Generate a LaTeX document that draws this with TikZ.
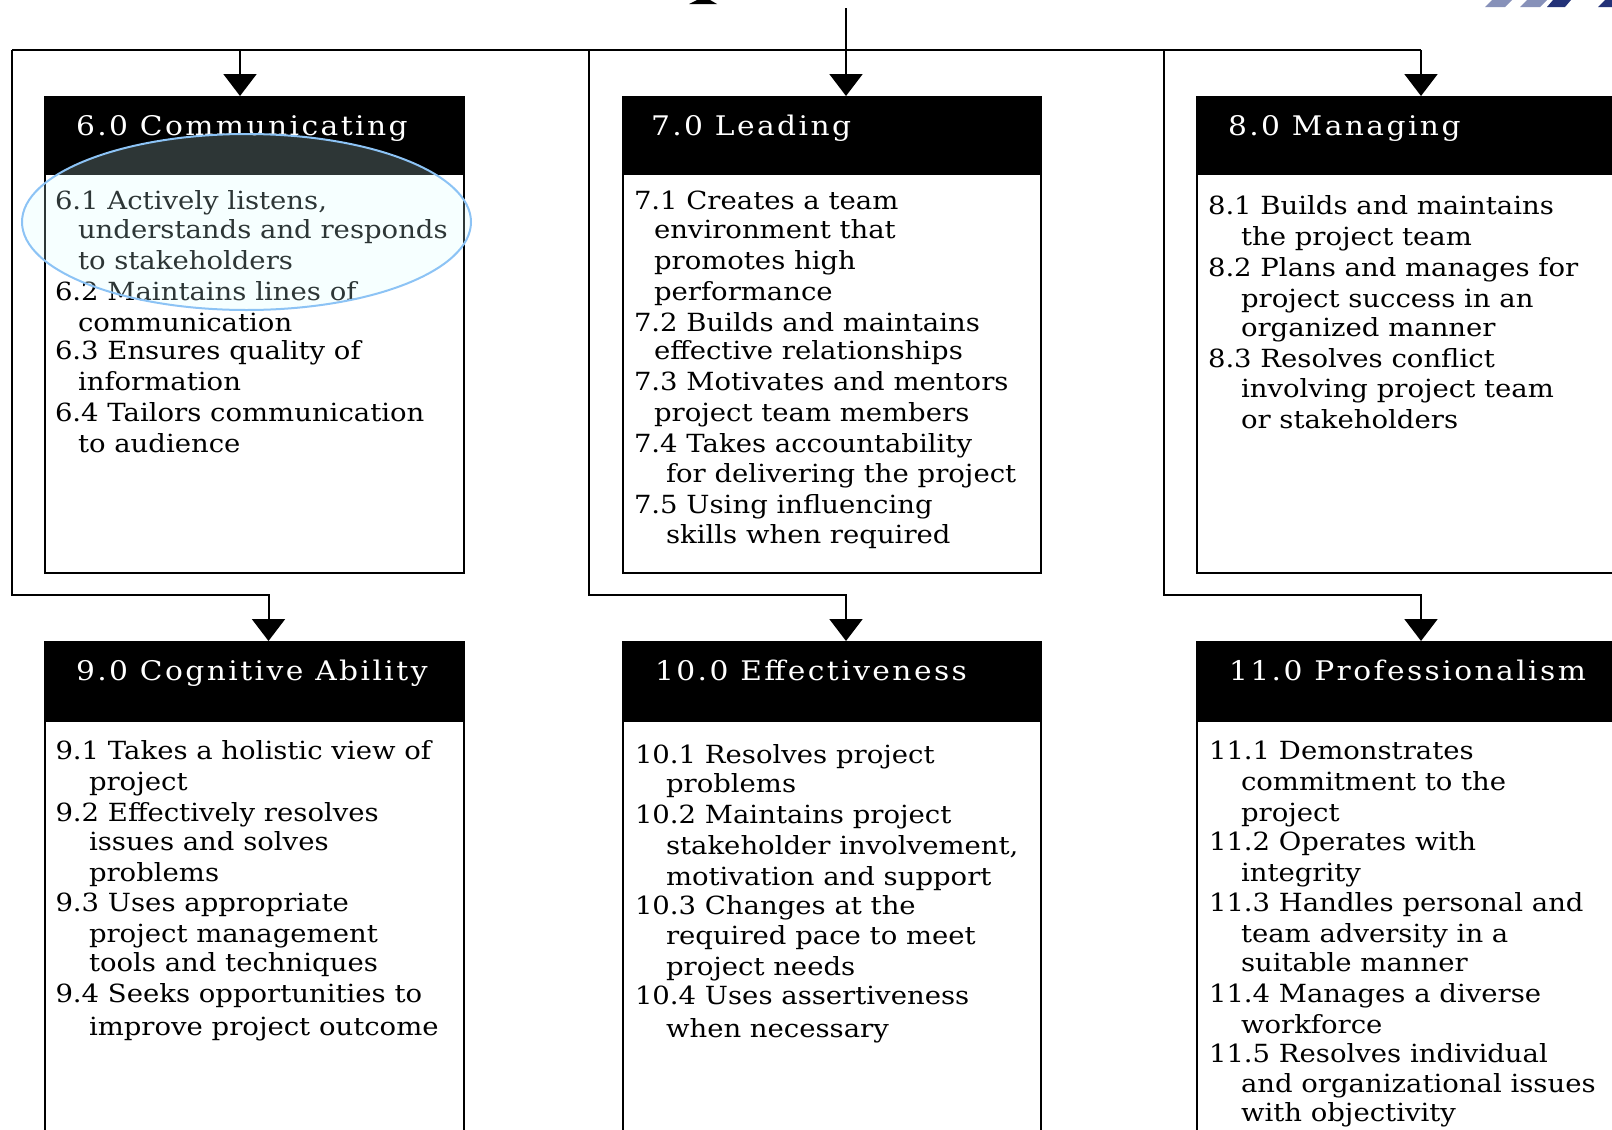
\documentclass[tikz,border=0pt]{standalone}
\usepackage{fontspec}
\setmainfont[FakeStretch=1.1]{DejaVu Serif}
\newfontfamily\headfont[LetterSpace=9,FakeStretch=1.1]{DejaVu Serif}
\usetikzlibrary{arrows.meta}
\definecolor{glow}{RGB}{214,255,255}
\definecolor{ring}{RGB}{140,195,245}
\definecolor{stripegrey}{RGB}{135,145,185}
\definecolor{stripenavy}{RGB}{35,50,120}

\begin{document}
\begin{tikzpicture}[x=1pt,y=-1pt,line width=2pt,line join=miter,
  frame/.style={draw=black,fill=white,line width=2pt,inner sep=0pt,anchor=north west},
  headbar/.style={draw=black,fill=black,line width=2pt,inner sep=0pt,anchor=north west,minimum height=77pt},
  headtext/.style={anchor=base west,inner sep=0pt,text=white,font=\headfont\fontsize{27}{32}\selectfont},
  item/.style={anchor=base west,inner sep=0pt,font=\fontsize{25}{30}\selectfont},
  tip/.style={-{Triangle[width=33pt,length=22pt]}}]
\useasboundingbox (0,0) rectangle (1612,1130);
\clip (0,0) rectangle (1612,1130);

% competency boxes
\node[frame,minimum width=419pt,minimum height=476pt] (b6) at (44,96) {};
\node[frame,minimum width=418pt,minimum height=476pt] (b7) at (622,96) {};
\node[frame,minimum width=440pt,minimum height=476pt] (b8) at (1196,96) {};
\node[frame,minimum width=419pt,minimum height=520pt] (b9) at (44,641) {};
\node[frame,minimum width=418pt,minimum height=520pt] (b10) at (622,641) {};
\node[frame,minimum width=440pt,minimum height=520pt] (b11) at (1196,641) {};

% black title bars
\node[headbar,minimum width=419pt] (h6) at (44,96) {};
\node[headbar,minimum width=418pt] (h7) at (622,96) {};
\node[headbar,minimum width=440pt] (h8) at (1196,96) {};
\node[headbar,minimum width=419pt,minimum height=79pt] (h9) at (44,641) {};
\node[headbar,minimum width=418pt,minimum height=79pt] (h10) at (622,641) {};
\node[headbar,minimum width=440pt,minimum height=79pt] (h11) at (1196,641) {};

\node[headtext] (t6) at (75,135) {6.0 Communicating};
\node[headtext] (t7) at (650,135) {7.0 Leading};
\node[headtext] (t8) at (1227,135) {8.0 Managing};
\node[headtext] (t9) at (75,680) {9.0 Cognitive Ability};
\node[headtext] (t10) at (654,680) {10.0 Effectiveness};
\node[headtext] (t11) at (1228,680) {11.0 Professionalism};

% connectors
\coordinate (src) at (846,8);
\coordinate (busL) at (12,50);
\coordinate (busR) at (1421,50);
\coordinate (j6) at (240,50);
\coordinate (jm) at (589,50);
\coordinate (jr) at (1164,50);
\coordinate (k9) at (268.5,595);
\coordinate (k10) at (846,595);
\coordinate (k11) at (1421,595);

\draw[line width=2.5pt] (busL) -- (busR);
\draw[tip] (src) -- (src |- b7.north);
\draw[tip] (j6) -- (j6 |- b6.north);
\draw[tip] (busR) -- (busR |- b8.north);
\draw[tip] (busL) |- (k9) -- (k9 |- b9.north);
\draw[tip] (jm) |- (k10) -- (k10 |- b10.north);
\draw[tip] (jr) |- (k11) -- (k11 |- b11.north);

% item lists
\foreach \y/\x/\t [count=\i] in {
  209.5/54/{6.1 Actively listens,},
  238/77/understands and responds,
  269/77/to stakeholders,
  300/54/6.2 Maintains lines of,
  331/77/communication,
  359.5/54/6.3 Ensures quality of,
  390/77/information,
  421/54/6.4 Tailors communication,
  452/77/to audience}
  \node[item] (i6-\i) at (\x,\y) {\t};

\foreach \y/\x/\t [count=\i] in {
  209.5/633/7.1 Creates a team,
  238/653/environment that,
  269/653/promotes high,
  300/653/performance,
  331/633/7.2 Builds and maintains,
  359.5/653/effective relationships,
  390/633/7.3 Motivates and mentors,
  421/653/project team members,
  452/633/7.4 Takes accountability,
  482/665/for delivering the project,
  513/633/7.5 Using influencing,
  543.5/665/skills when required}
  \node[item] (i7-\i) at (\x,\y) {\t};

\foreach \y/\x/\t [count=\i] in {
  214.6/1207/8.1 Builds and maintains,
  245.4/1240/the project team,
  276/1207/8.2 Plans and manages for,
  307/1240/project success in an,
  336/1240/organized manner,
  367/1207/8.3 Resolves conflict,
  397.6/1240/involving project team,
  428/1240/or stakeholders}
  \node[item] (i8-\i) at (\x,\y) {\t};

\foreach \y/\x/\t [count=\i] in {
  759.4/54.5/9.1 Takes a holistic view of,
  790/88/project,
  821/54.5/9.2 Effectively resolves,
  850/88/issues and solves,
  881/88/problems,
  911.6/54.5/9.3 Uses appropriate,
  942/88/project management,
  971/88/tools and techniques,
  1002/54.5/9.4 Seeks opportunities to,
  1035/88/improve project outcome}
  \node[item] (i9-\i) at (\x,\y) {\t};

\foreach \y/\x/\t [count=\i] in {
  763.6/634/10.1 Resolves project,
  792/665/problems,
  823/634/10.2 Maintains project,
  854/665/{stakeholder involvement,},
  885/665/motivation and support,
  914/634/10.3 Changes at the,
  944.5/665/required pace to meet,
  975/665/project needs,
  1004/634/10.4 Uses assertiveness,
  1037/665/when necessary}
  \node[item] (i10-\i) at (\x,\y) {\t};

\foreach \y/\x/\t [count=\i] in {
  759.4/1208/11.1 Demonstrates,
  790/1240/commitment to the,
  821/1240/project,
  850/1208/11.2 Operates with,
  881/1240/integrity,
  911.6/1208/11.3 Handles personal and,
  942/1240/team adversity in a,
  971/1240/suitable manner,
  1002/1208/11.4 Manages a diverse,
  1033/1240/workforce,
  1062/1208/11.5 Resolves individual,
  1092.5/1240/and organizational issues,
  1121/1240/with objectivity}
  \node[item] (i11-\i) at (\x,\y) {\t};

% highlight over item 6.1
\fill[glow,fill opacity=0.21] (246.5,222) ellipse [x radius=224.5pt,y radius=88pt];
\draw[ring,line width=2pt] (246.5,222) ellipse [x radius=224.5pt,y radius=88pt];

% cut-off title glyph and logo stripes along the top edge
\fill (689,4) -- (697,0) -- (710,0) -- (717,4) -- cycle;
\fill[stripegrey] (1485,7) -- (1492,0) -- (1512,0) -- (1505,7) -- cycle;
\fill[stripegrey] (1520,7) -- (1527,0) -- (1547,0) -- (1540,7) -- cycle;
\fill[stripenavy] (1547,7) -- (1553,0) -- (1571,0) -- (1565,7) -- cycle;
\fill[stripenavy] (1598,7) -- (1605,0) -- (1612,0) -- (1612,7) -- cycle;
\end{tikzpicture}
\end{document}
